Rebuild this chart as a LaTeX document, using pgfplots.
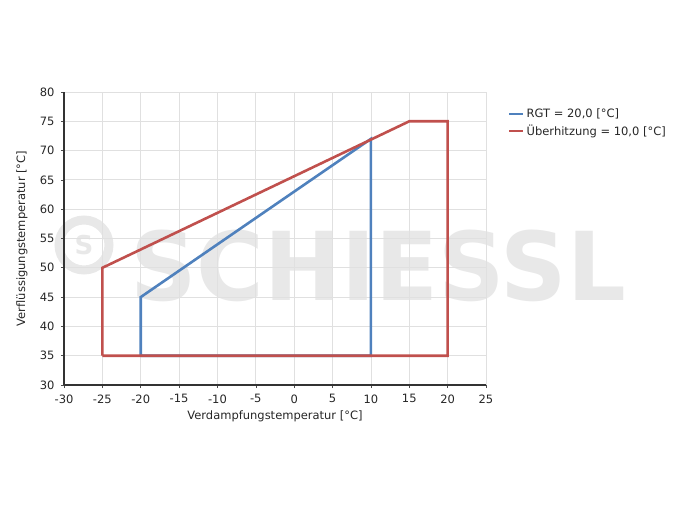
\documentclass[border=0pt]{standalone}
\usepackage{pgfplots}
\pgfplotsset{compat=1.18}
\usepackage{fontspec}
\setmainfont{DejaVu Sans}
\definecolor{rgtblue}{RGB}{79,129,189}
\definecolor{ueberred}{RGB}{192,80,77}
\definecolor{wm}{RGB}{232,232,232}
\begin{document}
\begin{tikzpicture}[x=1pt,y=1pt]
\useasboundingbox (-64,-129) rectangle (621,385);
% watermark (picture coordinates: origin at lower-left of axis box)
\node[anchor=west,text=wm,font=\fontsize{95}{95}\selectfont\bfseries,inner sep=0,xscale=0.97] at (66,119) {SCHIESSL};
\draw[wm,line width=9pt] (20,140) circle (25);
\node[text=wm,font=\fontsize{26}{26}\selectfont\bfseries] at (20,140) {S};
\begin{axis}[
  scale only axis, width=422pt, height=293pt,
  xmin=-30, xmax=25, ymin=30, ymax=80,
  xtick={-30,-25,...,25}, ytick={30,35,...,80},
  axis x line*=bottom, axis y line*=left,
  axis line style={black!80, line width=1.2pt, -},
  grid=major, major grid style={black!12, line width=0.8pt},
  tick align=outside, major tick length=3pt,
  tick style={black!70, line width=0.6pt},
  tick label style={font=\fontsize{11.5}{13}\selectfont, text=black!85},
  xticklabel style={yshift=-3pt},
  yticklabel style={xshift=-3pt},
  /pgf/number format/assume math mode=true,
  xlabel={Verdampfungstemperatur [°C]},
  ylabel={Verflüssigungstemperatur [°C]},
  label style={font=\fontsize{11.5}{13}\selectfont, text=black!85},
  xlabel style={at={(axis description cs:0.5,0)}, anchor=center, yshift=-31pt},
  ylabel style={at={(axis description cs:0,0.5)}, anchor=center, yshift=42pt},
  legend style={at={(1.045,0.956)}, anchor=north west, draw=none, fill=none,
    font=\fontsize{11.5}{13}\selectfont, text=black!85, row sep=1.5pt},
  legend cell align=left,
  legend image code/.code={\draw[#1, line width=2.5pt] (0pt,0pt) -- (14pt,0pt);},
  clip=false,
]
\addplot[rgtblue, line width=2.6pt, line join=miter] coordinates {(-20,35) (-20,45) (10,72) (10,35) (-20,35)};
\addlegendentry{RGT = 20,0 [°C]}
\addplot[ueberred, line width=2.6pt, line join=miter] coordinates {(-25,35) (-25,50) (15,75) (20,75) (20,35) (-25,35)};
\addlegendentry{Überhitzung = 10,0 [°C]}
\end{axis}
\end{tikzpicture}
\end{document}
